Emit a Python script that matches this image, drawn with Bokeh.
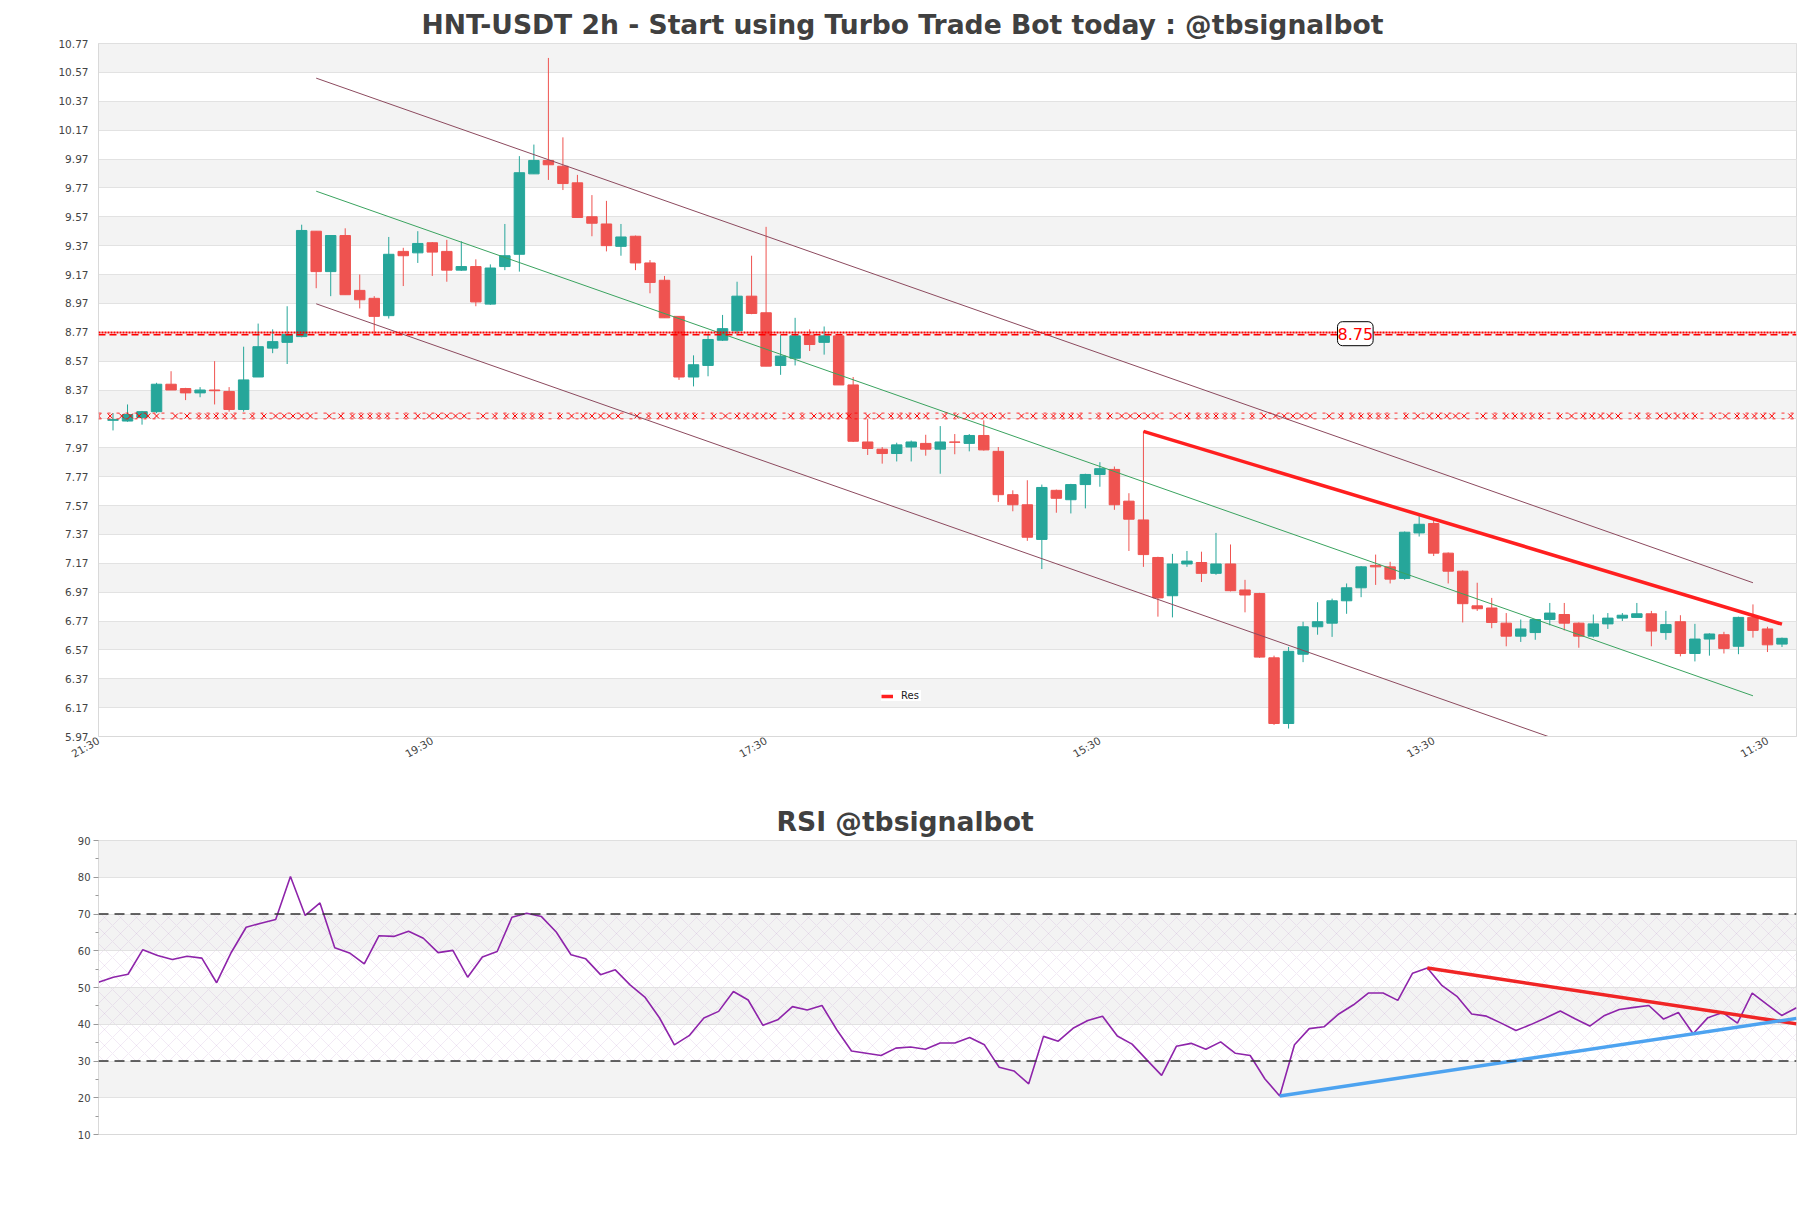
import math
from bokeh.plotting import figure
from bokeh.models import (Range1d, FixedTicker, Label, Span, ColumnDataSource,
                          PrintfTickFormatter)
from bokeh.layouts import column
from bokeh.embed import file_html
from bokeh.resources import INLINE

# ---------------- data ----------------
opens = [8.16, 8.155, 8.18, 8.22, 8.41, 8.38, 8.35, 8.37, 8.36, 8.235,
         8.46, 8.66, 8.70, 8.74, 9.47, 9.19, 9.44, 9.06, 9.005, 8.885,
         9.33, 9.32, 9.39, 9.33, 9.20, 9.225, 8.965, 9.225, 9.31, 9.867,
         9.96, 9.92, 9.805, 9.57, 9.52, 9.365, 9.435, 9.25, 9.13, 8.88,
         8.46, 8.54, 8.715, 8.78, 9.02, 8.905, 8.54, 8.59, 8.75, 8.70,
         8.745, 8.405, 8.01, 7.96, 7.93, 7.975, 8.00, 7.96, 8.01, 8.00,
         8.055, 7.945, 7.645, 7.575, 7.335, 7.675, 7.61, 7.715, 7.785, 7.82,
         7.60, 7.47, 7.21, 6.945, 7.165, 7.175, 7.10, 7.165, 6.985, 6.96,
         6.515, 6.06, 6.54, 6.73, 6.755, 6.91, 7.00, 7.155, 7.145, 7.065,
         7.38, 7.445, 7.24, 7.115, 6.875, 6.86, 6.755, 6.665, 6.69, 6.78,
         6.815, 6.755, 6.665, 6.75, 6.79, 6.795, 6.82, 6.69, 6.765, 6.545,
         6.645, 6.675, 6.595, 6.795, 6.715, 6.61]
highs = [8.21, 8.27, 8.225, 8.42, 8.50, 8.385, 8.39, 8.57, 8.39, 8.67,
         8.83, 8.79, 8.95, 9.515, 9.47, 9.44, 9.49, 9.17, 9.02, 9.43,
         9.355, 9.47, 9.395, 9.41, 9.40, 9.275, 9.24, 9.52, 9.99, 10.07,
         10.67, 10.12, 9.86, 9.72, 9.68, 9.52, 9.44, 9.27, 9.16, 8.88,
         8.61, 8.76, 8.89, 9.12, 9.30, 9.50, 8.75, 8.87, 8.79, 8.81,
         8.745, 8.46, 8.17, 7.975, 8.005, 8.02, 8.06, 8.12, 8.065, 8.065,
         8.16, 7.975, 7.675, 7.745, 7.715, 7.68, 7.72, 7.79, 7.87, 7.84,
         7.655, 8.085, 7.215, 7.235, 7.255, 7.25, 7.38, 7.30, 7.055, 6.965,
         6.53, 6.59, 6.765, 6.90, 6.925, 7.03, 7.15, 7.23, 7.18, 7.39,
         7.51, 7.47, 7.245, 7.12, 7.035, 6.93, 6.825, 6.78, 6.78, 6.895,
         6.895, 6.76, 6.815, 6.825, 6.825, 6.895, 6.84, 6.84, 6.81, 6.75,
         6.685, 6.695, 6.80, 6.885, 6.73, 6.655]
lows = [8.09, 8.15, 8.13, 8.21, 8.37, 8.30, 8.32, 8.27, 8.22, 8.22,
        8.46, 8.625, 8.55, 8.735, 9.075, 9.02, 9.03, 8.935, 8.75, 8.865,
        9.09, 9.25, 9.16, 9.12, 9.195, 8.95, 8.96, 9.20, 9.19, 9.867,
        9.825, 9.755, 9.565, 9.435, 9.33, 9.30, 9.20, 9.04, 8.87, 8.44,
        8.395, 8.465, 8.71, 8.755, 8.895, 8.535, 8.475, 8.54, 8.64, 8.615,
        8.405, 8.01, 7.92, 7.86, 7.875, 7.875, 7.915, 7.79, 7.925, 7.945,
        7.95, 7.595, 7.53, 7.325, 7.13, 7.52, 7.515, 7.55, 7.70, 7.54,
        7.255, 7.145, 6.80, 6.795, 7.145, 7.04, 7.09, 6.975, 6.83, 6.515,
        6.05, 6.025, 6.485, 6.675, 6.66, 6.82, 6.935, 7.02, 7.03, 7.055,
        7.355, 7.22, 7.03, 6.76, 6.84, 6.72, 6.595, 6.625, 6.64, 6.74,
        6.705, 6.585, 6.655, 6.715, 6.77, 6.795, 6.595, 6.64, 6.525, 6.49,
        6.53, 6.545, 6.54, 6.655, 6.555, 6.59]
closes = [8.165, 8.20, 8.22, 8.41, 8.37, 8.35, 8.37, 8.365, 8.235, 8.44,
          8.67, 8.705, 8.755, 9.475, 9.19, 9.44, 9.03, 8.995, 8.88, 9.31,
          9.30, 9.385, 9.325, 9.20, 9.225, 8.98, 9.215, 9.30, 9.875, 9.96,
          9.93, 9.80, 9.565, 9.525, 9.37, 9.43, 9.25, 9.115, 8.87, 8.46,
          8.545, 8.72, 8.795, 9.02, 8.90, 8.535, 8.605, 8.745, 8.685, 8.745,
          8.405, 8.015, 7.965, 7.93, 7.99, 8.01, 7.96, 8.01, 8.008, 8.055,
          7.955, 7.645, 7.575, 7.35, 7.695, 7.62, 7.715, 7.785, 7.825, 7.575,
          7.475, 7.23, 6.93, 7.165, 7.185, 7.10, 7.165, 6.98, 6.95, 6.52,
          6.06, 6.56, 6.73, 6.765, 6.91, 7.00, 7.145, 7.145, 7.06, 7.385,
          7.44, 7.24, 7.115, 6.89, 6.855, 6.76, 6.665, 6.715, 6.78, 6.825,
          6.755, 6.665, 6.75, 6.79, 6.81, 6.82, 6.70, 6.745, 6.545, 6.645,
          6.68, 6.58, 6.795, 6.705, 6.605, 6.65]

rsi = [51.4, 52.8, 53.6, 60.3, 58.7, 57.6, 58.5, 58.0, 51.3, 59.6,
       66.4, 67.5, 68.5, 80.2, 69.6, 73.0, 60.8, 59.4, 56.4, 64.1,
       63.9, 65.3, 63.4, 59.5, 60.1, 52.8, 58.3, 59.8, 69.1, 70.2,
       69.3, 65.1, 58.9, 57.8, 53.5, 54.8, 50.7, 47.4, 41.7, 34.4,
       36.9, 41.7, 43.5, 48.9, 46.6, 39.7, 41.2, 44.8, 43.9, 45.1,
       38.5, 32.7, 32.1, 31.5, 33.5, 33.8, 33.2, 34.9, 34.9, 36.4,
       34.4, 28.3, 27.3, 23.8, 36.7, 35.4, 38.9, 41.0, 42.2, 36.8,
       34.6, 30.3, 26.1, 34.0, 34.8, 33.2, 35.2, 32.1, 31.5, 25.1,
       20.5, 34.4, 38.8, 39.3, 42.8, 45.3, 48.5, 48.5, 46.5, 53.9,
       55.3, 50.5, 47.6, 42.8, 42.2, 40.3, 38.3, 39.9, 41.7, 43.6,
       41.5, 39.5, 42.4, 44.0, 44.6, 45.1, 41.4, 43.2, 37.4, 41.8,
       43.2, 40.3, 48.5, 45.4, 42.4, 44.5]

price_ticks = [5.97, 6.17, 6.37, 6.57, 6.77, 6.97, 7.17, 7.37, 7.57, 7.77, 7.97,
               8.17, 8.37, 8.57, 8.77, 8.97, 9.17, 9.37, 9.57, 9.77, 9.97,
               10.17, 10.37, 10.57, 10.77]
time_tick_pos = [-1, 22, 45, 68, 91, 114]
time_tick_labels = ["21:30", "19:30", "17:30", "15:30", "13:30", "11:30"]

res_level = 8.75
sup_level = 8.19
channel_x = [14, 113]
channel_upper = [10.53, 7.035]
channel_mid = [9.747, 6.252]
channel_lower = [8.967, 5.472]
res_line_x = [71, 115]
res_line_y = [8.083, 6.748]

rsi_ticks = [10, 20, 30, 40, 50, 60, 70, 80, 90]
rsi_minor = [15, 25, 35, 45, 55, 65, 75, 85]
rsi_res_x = [90, 115]
rsi_res_y = [55.3, 40.1]
rsi_sup_x = [80, 115]
rsi_sup_y = [20.5, 41.6]

TITLE = "HNT-USDT 2h - Start using Turbo Trade Bot today : @tbsignalbot"
RSI_TITLE = "RSI @tbsignalbot"

FONT = "DejaVu Sans"
GREEN = "#26a69a"
RED = "#ef5350"
BAND = "#f3f3f3"
GRID = "#e2e2e2"
LABEL_COLOR = "#444444"
TITLE_COLOR = "#404040"


def style_title(fig, text, offset):
    fig.title.text = text
    fig.title.align = "left"
    fig.title.offset = offset
    fig.title.text_font = FONT
    fig.title.text_font_size = "26.6px"
    fig.title.text_font_style = "bold"
    fig.title.text_color = TITLE_COLOR
    fig.title.standoff = 8


# ---------------- main price chart ----------------
W = 1811
H1 = 797
p = figure(width=W, height=H1, x_range=Range1d(-1, 116), y_range=Range1d(5.97, 10.77),
           output_backend="svg", toolbar_location=None,
           min_border_left=98, min_border_right=15, min_border_top=43, min_border_bottom=61)
p.background_fill_color = "white"
p.border_fill_color = "white"
p.outline_line_color = "#d9d9d9"
style_title(p, TITLE, 323)

bb = [price_ticks[i] for i in range(1, len(price_ticks) - 1, 2)]
bt = [price_ticks[i + 1] for i in range(1, len(price_ticks) - 1, 2)]
p.quad(left=-1, right=116, bottom=bb, top=bt, fill_color=BAND, line_color=None, level="image")

p.xgrid.visible = False
p.ygrid.ticker = FixedTicker(ticks=price_ticks)
p.ygrid.grid_line_color = GRID

p.yaxis.ticker = FixedTicker(ticks=price_ticks, minor_ticks=[])
p.yaxis.formatter = PrintfTickFormatter(format="%.2f")
p.xaxis.ticker = FixedTicker(ticks=time_tick_pos, minor_ticks=[])
p.xaxis.major_label_overrides = {t: l for t, l in zip(time_tick_pos, time_tick_labels)}
p.xaxis.major_label_orientation = math.pi / 6
for ax in (p.xaxis, p.yaxis):
    ax.axis_line_color = "#d9d9d9"
    ax.major_tick_line_color = None
    ax.minor_tick_line_color = None
    ax.major_tick_out = 0
    ax.major_tick_in = 0
    ax.major_label_text_font = FONT
    ax.major_label_text_font_size = "10.5px"
    ax.major_label_text_color = LABEL_COLOR
p.yaxis.major_label_standoff = 10
p.xaxis.major_label_standoff = 3

idx = list(range(len(opens)))
colors = [GREEN if c >= o else RED for o, c in zip(opens, closes)]
src = ColumnDataSource(dict(x=idx, h=highs, l=lows,
                            top=[max(o, c) for o, c in zip(opens, closes)],
                            bottom=[min(o, c) for o, c in zip(opens, closes)],
                            color=colors))
p.segment(x0="x", y0="h", x1="x", y1="l", line_color="color", line_width=1, source=src)
p.vbar(x="x", width=0.72, top="top", bottom="bottom", fill_color="color",
       line_color="color", line_width=1, source=src)

# horizontal resistance (8.75) and support lines
p.add_layout(Span(location=res_level + 0.018, dimension="width", line_color="red",
                  line_dash="2 1", line_width=2))
p.add_layout(Span(location=res_level + 0.002, dimension="width", line_color="red",
                  line_dash="7 4", line_width=1.5))
sup_x = []
k = -1.0
while k < 116:
    sup_x += [k, k + 0.8]
    j = 1.6
    while j <= 4.5:
        sup_x.append(k + j)
        j += 0.6
    k += 5.3
sup_x = [v for v in sup_x if -1 <= v <= 116]
p.scatter(x=sup_x, y=[sup_level] * len(sup_x), marker="x", size=7, line_color="red",
          line_width=1)
p.add_layout(Span(location=sup_level + 0.02, dimension="width", line_color="red",
                  line_dash="3 6", line_width=0.8))
p.add_layout(Span(location=sup_level - 0.02, dimension="width", line_color="red",
                  line_dash="3 6", line_width=0.8))

p.add_layout(Label(x=85.6, y=res_level + 0.01, text=f"{res_level:.2f}", text_color="red",
                   text_font=FONT, text_font_size="16px", text_align="center",
                   text_baseline="middle", background_fill_color="white",
                   border_line_color="black", border_line_width=1, border_radius=5,
                   padding=(0, 6)))

# regression channel
p.line(channel_x, channel_upper, line_color="#8c4a5e", line_width=1)
p.line(channel_x, channel_mid, line_color="#3aa35f", line_width=1)
p.line(channel_x, channel_lower, line_color="#8c4a5e", line_width=1)

# trend line
p.line(res_line_x, res_line_y, line_color="#ff1f1f", line_width=3.5, legend_label="Res")
p.legend.location = (783, 35)
p.legend.label_text_font = FONT
p.legend.label_text_font_size = "10px"
p.legend.label_text_color = "#222222"
p.legend.glyph_width = 12
p.legend.glyph_height = 10
p.legend.label_height = 10
p.legend.label_standoff = 8
p.legend.padding = 4
p.legend.spacing = 0
p.legend.margin = 0
p.legend.border_line_color = None
p.legend.background_fill_color = "white"
p.legend.background_fill_alpha = 1

# ---------------- RSI chart ----------------
H2 = 1208 - H1
p2 = figure(width=W, height=H2, x_range=Range1d(0, 115), y_range=Range1d(10, 90),
            output_backend="svg", toolbar_location=None,
            min_border_left=98, min_border_right=15, min_border_top=43, min_border_bottom=74)
p2.background_fill_color = "white"
p2.border_fill_color = "white"
p2.outline_line_color = "#d9d9d9"
style_title(p2, RSI_TITLE, 678)

rb = [rsi_ticks[i] for i in range(1, len(rsi_ticks) - 1, 2)]
rt = [rsi_ticks[i + 1] for i in range(1, len(rsi_ticks) - 1, 2)]
p2.quad(left=0, right=115, bottom=rb, top=rt, fill_color=BAND, line_color=None, level="image")
p2.quad(left=0, right=115, bottom=30, top=70, fill_alpha=0, line_color=None,
        hatch_pattern="x", hatch_color="#b58cc8", hatch_alpha=0.3, hatch_scale=16,
        hatch_weight=0.6, level="image")

p2.xgrid.visible = False
p2.xaxis.visible = False
p2.ygrid.ticker = FixedTicker(ticks=rsi_ticks)
p2.ygrid.grid_line_color = GRID
p2.yaxis.ticker = FixedTicker(ticks=rsi_ticks, minor_ticks=rsi_minor)
p2.yaxis.axis_line_color = "#d9d9d9"
p2.yaxis.major_tick_line_color = "#999999"
p2.yaxis.minor_tick_line_color = "#999999"
p2.yaxis.major_tick_out = 5
p2.yaxis.major_tick_in = 0
p2.yaxis.minor_tick_out = 3
p2.yaxis.minor_tick_in = 0
p2.yaxis.major_label_standoff = 3
p2.yaxis.major_label_text_font = FONT
p2.yaxis.major_label_text_font_size = "10px"
p2.yaxis.major_label_text_color = LABEL_COLOR

p2.add_layout(Span(location=70, dimension="width", line_color="#333333", line_dash="10 6",
                   line_width=1.3))
p2.add_layout(Span(location=30, dimension="width", line_color="#333333", line_dash="10 6",
                   line_width=1.3))

p2.line(list(range(len(rsi))), rsi, line_color="#8e24aa", line_width=1.6)
p2.line(rsi_res_x, rsi_res_y, line_color="#f02525", line_width=3.5)
p2.line(rsi_sup_x, rsi_sup_y, line_color="#4da3f0", line_width=3.5)

layout = column(p, p2, spacing=0)
open("out.html", "w").write(file_html(layout, INLINE))
